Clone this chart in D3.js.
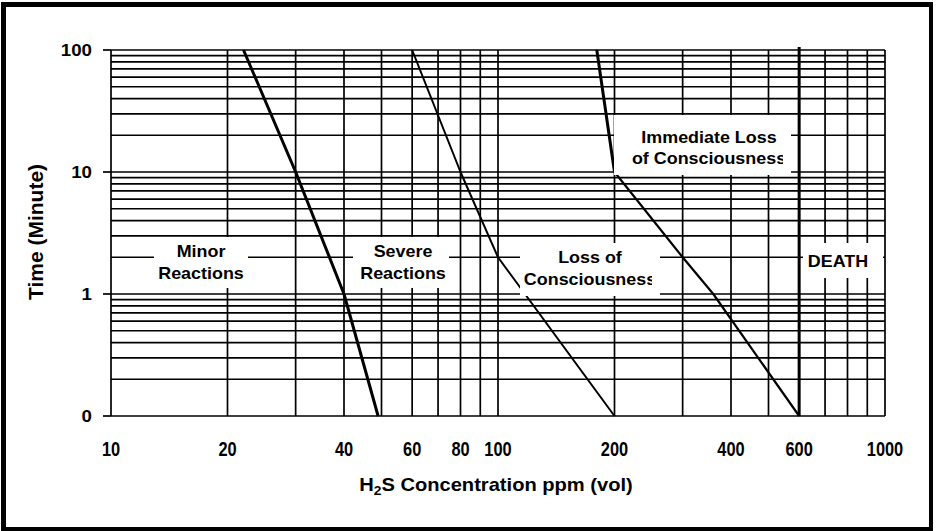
<!DOCTYPE html>
<html>
<head>
<meta charset="utf-8">
<title>H2S exposure</title>
<script src="https://cdnjs.cloudflare.com/ajax/libs/d3/7.8.5/d3.min.js"></script>
<style>
  body { margin: 0; background: white; }
  text { font-family: "Liberation Sans", Arial, sans-serif; font-weight: bold; fill: #000; }
  .grid line { stroke: #000; stroke-width: 1.7; }
  .curve { fill: none; stroke: #000; stroke-linejoin: round; }
</style>
</head>
<body>
<script>
// boundaries: [ppm, minutes]
const minorSevere = [[22, 100], [30, 10], [40, 1], [49, 0.1]];
const severeLoss = [[60, 100], [80, 10], [100, 2], [200, 0.1]];
const immediateTop = [[180, 100], [200, 10]];
const immediateLow = [[200, 10], [300, 2], [360, 1], [600, 0.1]];
const deathPpm = 600;

const xTickLabels = [10, 20, 40, 60, 80, 100, 200, 400, 600, 1000];
const yTickValues = [0.1, 1, 10, 100];
const yTickLabels = ["0", "1", "10", "100"];

// zone labels, placed by hand like the original
const zones = [
  { lines: ["Minor", "Reactions"], cx: 201, base: [257, 279], box: [154, 237, 248, 288] },
  { lines: ["Severe", "Reactions"], cx: 403, base: [257, 279], box: [353, 237, 449, 288] },
  { lines: ["Loss of", "Consciousness"], cx: 590, base: [263, 285], box: [520, 243, 660, 296], clip: 652 },
  { lines: ["Immediate Loss", "of Consciousness"], cx: 709, base: [143, 164], box: [614, 115, 791, 175], clip: 783 },
  { lines: ["DEATH"], cx: 838, base: [267], box: [803, 243, 883, 278] }
];

const W = 936, H = 531;
const svg = d3.select("body").append("svg").attr("width", W).attr("height", H);

// frame
svg.append("rect").attr("x", 1).attr("y", 2).attr("width", 932).attr("height", 529).attr("fill", "#000");
svg.append("rect").attr("x", 6).attr("y", 7).attr("width", 923).attr("height", 520).attr("fill", "#fff");

const x = d3.scaleLog().domain([10, 1000]).range([111, 885]);
const y = d3.scaleLog().domain([0.1, 100]).range([416, 50]);

// grid
const grid = svg.append("g").attr("class", "grid");
grid.selectAll("line.v").data(x.ticks()).enter().append("line")
  .attr("x1", d => x(d)).attr("x2", d => x(d))
  .attr("y1", y(100)).attr("y2", y(0.1));
grid.selectAll("line.h").data(y.ticks()).enter().append("line")
  .attr("x1", x(10)).attr("x2", x(1000))
  .attr("y1", d => y(d)).attr("y2", d => y(d));
grid.selectAll("line.t").data(yTickValues).enter().append("line")
  .attr("x1", x(10) - 8).attr("x2", x(10))
  .attr("y1", d => y(d)).attr("y2", d => y(d));

// boundaries
const line = d3.line().x(d => x(d[0])).y(d => y(d[1]));
svg.append("path").attr("class", "curve").attr("d", line(minorSevere)).attr("stroke-width", 3);
svg.append("path").attr("class", "curve").attr("d", line(severeLoss)).attr("stroke-width", 2);
svg.append("path").attr("class", "curve").attr("d", line(immediateTop)).attr("stroke-width", 3);
svg.append("path").attr("class", "curve").attr("d", line(immediateLow)).attr("stroke-width", 2.2);
svg.append("line")
  .attr("x1", x(deathPpm)).attr("x2", x(deathPpm))
  .attr("y1", y(100) - 3).attr("y2", y(0.1))
  .attr("stroke", "#000").attr("stroke-width", 3);

// zone labels on white patches
const defs = svg.append("defs");
zones.forEach((z, i) => {
  const [x0, y0, x1, y1] = z.box;
  svg.append("rect").attr("x", x0).attr("y", y0).attr("width", x1 - x0).attr("height", y1 - y0).attr("fill", "#fff");
  const g = svg.append("g");
  if (z.clip) {
    defs.append("clipPath").attr("id", "clip" + i)
      .append("rect").attr("x", x0).attr("y", y0).attr("width", z.clip - x0).attr("height", y1 - y0);
    g.attr("clip-path", `url(#clip${i})`);
  }
  z.lines.forEach((t, k) => {
    g.append("text")
      .attr("transform", `translate(${z.cx},${z.base[k]}) scale(1.12,1)`)
      .attr("text-anchor", "middle").attr("font-size", 16).text(t);
  });
});

// tick labels
svg.selectAll("text.ylab").data(yTickValues).enter().append("text")
  .attr("transform", d => `translate(92,${y(d) + 6}) scale(1.1,1)`)
  .attr("text-anchor", "end").attr("font-size", 17)
  .text((d, i) => yTickLabels[i]);

svg.selectAll("text.xlab").data(xTickLabels).enter().append("text")
  .attr("transform", d => `translate(${x(d)},456) scale(0.82,1)`)
  .attr("text-anchor", "middle").attr("font-size", 20)
  .text(d => d);

// axis titles
const xt = svg.append("text")
  .attr("transform", "translate(496,491) scale(1.15,1)")
  .attr("text-anchor", "middle").attr("font-size", 17.5);
xt.append("tspan").text("H");
xt.append("tspan").attr("font-size", 12).attr("dy", 4).text("2");
xt.append("tspan").attr("dy", -4).text("S Concentration ppm (vol)");

svg.append("text")
  .attr("transform", "translate(43,232) rotate(-90)")
  .attr("text-anchor", "middle").attr("font-size", 21)
  .text("Time (Minute)");
</script>
</body>
</html>
